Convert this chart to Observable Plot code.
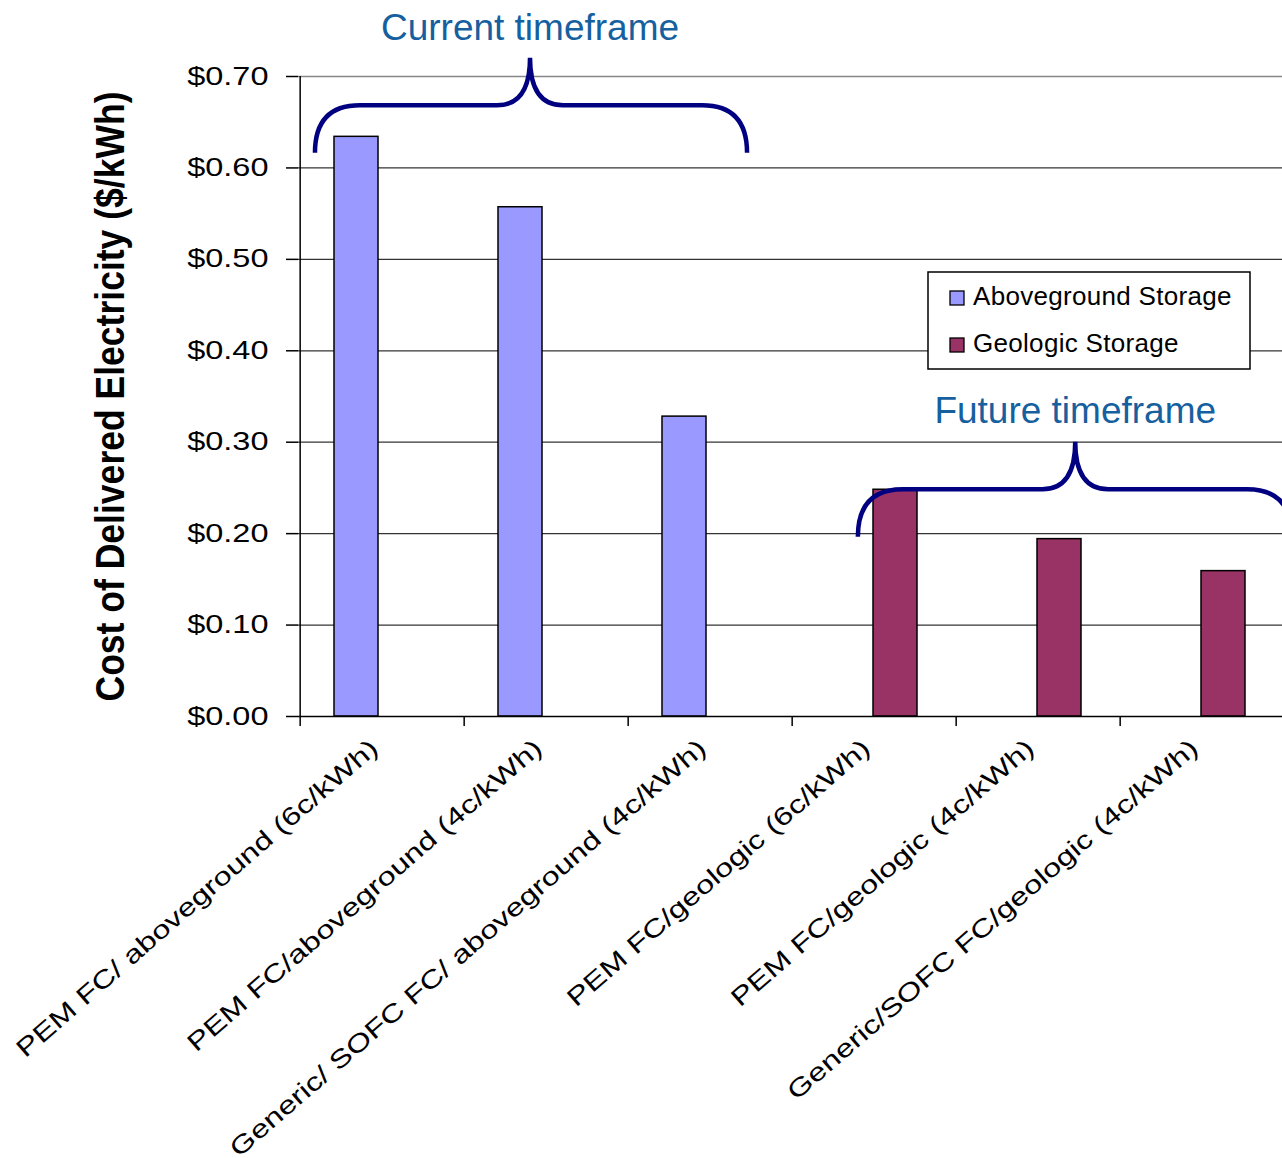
<!DOCTYPE html>
<html><head><meta charset="utf-8">
<script src="https://cdn.jsdelivr.net/npm/d3@7"></script>
<script src="https://cdn.jsdelivr.net/npm/@observablehq/plot@0.6"></script>
<style>
html,body{margin:0;padding:0;background:#fff;}
#wrap{position:relative;width:1282px;height:1158px;overflow:hidden;}
</style></head><body><div id="wrap"></div>
<script>
// ---- data ----
const categories = [
  "PEM FC/ aboveground (6c/kWh)",
  "PEM FC/aboveground (4c/kWh)",
  "Generic/ SOFC FC/ aboveground (4c/kWh)",
  "PEM FC/geologic (6c/kWh)",
  "PEM FC/geologic (4c/kWh)",
  "Generic/SOFC FC/geologic (4c/kWh)"
];
const seriesNames = ["Aboveground Storage", "Geologic Storage"];
const aboveground = [0.634, 0.557, 0.328, null, null, null];
const geologic = [null, null, null, 0.248, 0.194, 0.159];
const yTicks = [0, 0.1, 0.2, 0.3, 0.4, 0.5, 0.6, 0.7];
const yTitle = "Cost of Delivered Electricity ($/kWh)";
const seriesColors = ["#9999ff", "#993366"];
// annotation braces: x in category units, y in $/kWh
const braceLabels = ["Current timeframe", "Future timeframe"];
const braceFrom = [0.103, 3.40];
const braceTo = [2.727, 6.036];
const braceTip = [1.409, 4.72];
const braceEnd = [0.616, 0.196];
const braceLevel = [0.668, 0.248];
const bracePeak = [0.720, 0.300];
const braceText = [0.739, 0.320];

// ---- layout ----
const W = 1286, H = 1158, ML = 298, MT = 76, MB = 442, MR = 0;
const step = (W - ML - MR) / categories.length;
const font = "'Liberation Sans', Arial, Helvetica, sans-serif";
const stretch = 1.30; // horizontal widening of the tick label glyphs

const rows = categories.flatMap((c, i) => [
  {category: c, series: seriesNames[0], value: aboveground[i]},
  {category: c, series: seriesNames[1], value: geologic[i]}
]).filter(d => d.value != null);

const chart = Plot.plot({
  width: W, height: H,
  marginLeft: ML, marginTop: MT, marginBottom: MB, marginRight: MR,
  style: {fontFamily: font, fontSize: "25px", maxWidth: "none", overflow: "visible", background: "white"},
  x: {domain: categories, padding: 0},
  y: {domain: [0, 0.7]},
  color: {domain: seriesNames, range: seriesColors},
  marks: [
    Plot.gridY(yTicks.filter(v => v > 0 && v < 0.7), {stroke: "#000", strokeOpacity: 0.8, strokeWidth: 1.3}),
    Plot.ruleY([0.7], {stroke: "#888", strokeWidth: 1.3}),
    Plot.barY(rows.filter(d => d.series === seriesNames[0]), {x: "category", y: "value", fill: "series", stroke: "#000", strokeWidth: 1.5, insetLeft: 34, insetRight: 86}),
    Plot.barY(rows.filter(d => d.series === seriesNames[1]), {x: "category", y: "value", fill: "series", stroke: "#000", strokeWidth: 1.5, insetLeft: 81, insetRight: 39}),
    Plot.ruleY([0], {stroke: "#000", strokeWidth: 1.5}),
    Plot.ruleX([categories[0]], {x: d => d, dx: -step / 2, y1: 0, y2: 0.7, stroke: "#000", strokeWidth: 1.5}),
    Plot.axisY({ticks: yTicks, tickFormat: d3.format("$.2f"), tickSize: 12, tickPadding: 18, label: null, fontSize: 25, strokeWidth: 1.5}),
    Plot.axisX({tickSize: 10, tickFormat: () => "", dx: -step / 2, label: null, strokeWidth: 1.5}),
    Plot.axisX({tickSize: 0, tickRotate: -41, tickPadding: 28, fontSize: 25, label: null, dx: -8}),
    Plot.text([yTitle], {frameAnchor: "left", textAnchor: "middle", dx: -187, rotate: -90, fontSize: 40, fontWeight: "bold", fill: "#000"})
  ]
});

document.getElementById("wrap").appendChild(chart);

const svg = d3.select(chart);
svg.selectAll("text").filter(function() { return this.textContent === yTitle; })
  .attr("textLength", 610).attr("lengthAdjust", "spacingAndGlyphs");

// widen tick label glyphs like the reference's stretched font
svg.selectAll('g[aria-label="x-axis tick label"] text, g[aria-label="y-axis tick label"] text').each(function() {
  const len = this.getComputedTextLength();
  if (len > 0) {
    this.setAttribute("textLength", (len * stretch).toFixed(1));
    this.setAttribute("lengthAdjust", "spacingAndGlyphs");
  }
});

const xs = chart.scale("x");
const ys = chart.scale("y");
const x0 = xs.range[0];
const px = u => x0 + u * step;
const py = v => ys.apply(v);

// braces
const r = 45, t = 33;
const bg = svg.append("g");
braceLabels.forEach((lab, i) => {
  const a = px(braceFrom[i]), b = px(braceTo[i]), m = px(braceTip[i]);
  const e = py(braceEnd[i]), l = py(braceLevel[i]), p = py(bracePeak[i]);
  const path = `M${a},${e} Q${a},${l} ${a + r},${l} L${m - t},${l} Q${m},${l} ${m},${p} Q${m},${l} ${m + t},${l} L${b - r},${l} Q${b},${l} ${b},${e}`;
  bg.append("path").attr("d", path).attr("fill", "none").attr("stroke", "#000080").attr("stroke-width", 4.5);
  bg.append("text").attr("x", m).attr("y", py(braceText[i])).attr("text-anchor", "middle")
    .attr("font-size", 37).attr("fill", "#1660a0").text(lab);
});

// legend
const lg = svg.append("g").attr("font-size", 26).attr("text-anchor", "start");
lg.append("rect").attr("x", 928).attr("y", 272).attr("width", 322).attr("height", 97)
  .attr("fill", "#fff").attr("stroke", "#000").attr("stroke-width", 1.5);
seriesNames.forEach((s, i) => {
  lg.append("rect").attr("x", 950).attr("y", 291 + i * 47).attr("width", 14).attr("height", 14)
    .attr("fill", seriesColors[i]).attr("stroke", "#000").attr("stroke-width", 1.3);
  lg.append("text").attr("x", 973).attr("y", 305 + i * 47).attr("fill", "#000")
    .attr("text-anchor", "start").style("letter-spacing", "0.3px").text(s);
});
</script></body></html>
